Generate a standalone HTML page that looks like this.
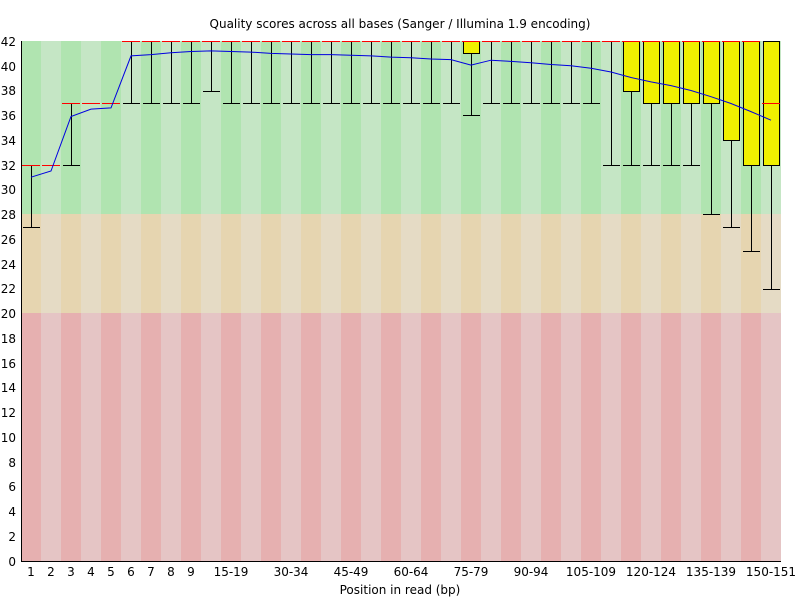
<!DOCTYPE html>
<html><head><meta charset="utf-8"><style>
body{margin:0;background:#fff;width:800px;height:600px;overflow:hidden}
svg{display:block;font-family:"DejaVu Sans","Liberation Sans",sans-serif;font-size:12px}
</style></head><body>
<svg id="s" width="800" height="600" xmlns="http://www.w3.org/2000/svg">
<g id="bg" shape-rendering="crispEdges"></g><g id="bx" shape-rendering="crispEdges"></g><g id="rd"></g><g id="ln"></g>
<g shape-rendering="crispEdges">
<rect x="21" y="41" width="1" height="520" fill="#000"/>
<rect x="21" y="561" width="760" height="1" fill="#000"/>
</g>
<text x="400" y="28" text-anchor="middle">Quality scores across all bases (Sanger / Illumina 1.9 encoding)</text>
<text x="400" y="594" text-anchor="middle">Position in read (bp)</text>
<g text-anchor="end">
<text x="16" y="566">0</text><text x="16" y="541">2</text><text x="16" y="516">4</text><text x="16" y="491">6</text><text x="16" y="467">8</text><text x="16" y="442">10</text><text x="16" y="417">12</text><text x="16" y="392">14</text><text x="16" y="368">16</text><text x="16" y="343">18</text><text x="16" y="318">20</text><text x="16" y="293">22</text><text x="16" y="269">24</text><text x="16" y="244">26</text><text x="16" y="219">28</text><text x="16" y="194">30</text><text x="16" y="170">32</text><text x="16" y="145">34</text><text x="16" y="120">36</text><text x="16" y="95">38</text><text x="16" y="71">40</text><text x="16" y="46">42</text>
</g>
<g text-anchor="middle">
<text x="31" y="576">1</text><text x="51" y="576">2</text><text x="71" y="576">3</text><text x="91" y="576">4</text><text x="111" y="576">5</text><text x="131" y="576">6</text><text x="151" y="576">7</text><text x="171" y="576">8</text><text x="191" y="576">9</text>
<text x="231" y="576">15-19</text><text x="291" y="576">30-34</text><text x="351" y="576">45-49</text><text x="411" y="576">60-64</text><text x="471" y="576">75-79</text><text x="531" y="576">90-94</text><text x="591" y="576">105-109</text><text x="651" y="576">120-124</text><text x="711" y="576">135-139</text><text x="771" y="576">150-151</text>
</g>
</svg>
<script>
var Y=function(v){return Math.round(561-v*520/42)};
var ns="http://www.w3.org/2000/svg";
function el(p,t,a){var e=document.createElementNS(ns,t);for(var k in a)e.setAttribute(k,a[k]);p.appendChild(e);return e}
var bg=document.getElementById('bg'),bx=document.getElementById('bx'),rd=document.getElementById('rd'),ln=document.getElementById('ln');
for(var i=0;i<38;i++){var x=21+i*20,d=i%2==0;
el(bg,'rect',{x:x,y:41,width:20,height:Y(28)-41,fill:d?'#b0e4b0':'#c5e6c5'});
el(bg,'rect',{x:x,y:Y(28),width:20,height:Y(20)-Y(28),fill:d?'#e6d5b0':'#e5dbc5'});
el(bg,'rect',{x:x,y:Y(20),width:20,height:561-Y(20),fill:d?'#e6b0b0':'#e5c5c5'});}
var D=[[27,32,32,32,32],[32,32,32,32,32],[32,37,37,37,37],[37,37,37,37,37],[37,37,37,37,37]];
for(i=5;i<38;i++)D.push([37,42,42,42,42]);
D[9][0]=38;D[22]=[36,41,42,42,42];D[29]=[32,42,42,42,42];D[30]=[32,38,42,42,42];
D[31]=D[32]=D[33]=[32,37,42,42,42];D[34]=[28,37,42,42,42];D[35]=[27,34,42,42,42];D[36]=[25,32,42,42,42];D[37]=[22,32,37,42,42];
var M=[31,31.5,35.9,36.5,36.6,40.8,40.9,41.05,41.15,41.2,41.15,41.1,41.0,40.95,40.9,40.9,40.85,40.8,40.7,40.65,40.55,40.5,40.05,40.45,40.35,40.25,40.1,40.0,39.8,39.5,39.05,38.7,38.4,38.0,37.5,36.95,36.3,35.6];
function R(p,x,y,w,h,f){el(p,'rect',{x:x,y:y,width:w,height:h,fill:f});}
for(i=0;i<38;i++){var c=21+i*20+10,d=D[i];
if(d[0]<d[1]){R(bx,c,Y(d[1]),1,Y(d[0])-Y(d[1]),'#000');R(bx,c-8,Y(d[0]),17,1,'#000');}
if(d[3]<d[4]){R(bx,c,Y(d[4]),1,Y(d[3])-Y(d[4]),'#000');R(bx,c-8,Y(d[4]),17,1,'#000');}
if(d[1]<d[3]){R(bx,c-8,Y(d[3]),17,Y(d[1])-Y(d[3])+1,'#000');R(bx,c-7,Y(d[3])+1,15,Y(d[1])-Y(d[3])-1,'#f0f000');}
R(rd,c-9,Y(d[2]),18,1,'#ff0000');}
var p='';for(i=0;i<38;i++)p+=(i?'L':'M')+(31+i*20)+' '+(561-M[i]*520/42).toFixed(1);
el(ln,'path',{d:p,fill:'none',stroke:'#0000e0'});
</script>
</body></html>
